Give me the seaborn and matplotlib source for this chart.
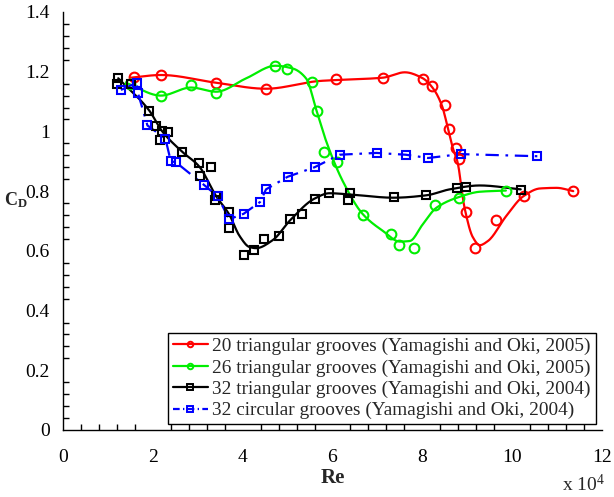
import numpy as np
import matplotlib
matplotlib.use("Agg")
import matplotlib.pyplot as plt
from matplotlib.lines import Line2D
from matplotlib.ticker import MultipleLocator, FuncFormatter
import seaborn as sns
import pandas as pd

# ---- measured drag coefficients (Re in units of 1e4) ----
# 20 triangular grooves (Yamagishi and Oki, 2005)
re_tri20 = [1.58, 2.18, 3.41, 4.52, 6.07, 7.12, 8.01, 8.22, 8.51, 8.59,
            8.74, 8.81, 8.97, 9.17, 9.64, 10.27, 11.36]
cd_tri20 = [1.183, 1.189, 1.161, 1.141, 1.176, 1.180, 1.176, 1.152, 1.089, 1.009,
            0.944, 0.906, 0.730, 0.611, 0.702, 0.783, 0.800]

# 26 triangular grooves (Yamagishi and Oki, 2005)
re_tri26 = [1.49, 2.18, 2.85, 3.41, 4.73, 4.98, 5.54, 5.65, 5.82, 6.10,
            6.68, 7.31, 7.47, 7.81, 8.28, 8.81, 9.86]
cd_tri26 = [1.160, 1.119, 1.156, 1.128, 1.220, 1.209, 1.167, 1.067, 0.931, 0.897,
            0.719, 0.656, 0.619, 0.609, 0.753, 0.776, 0.800]

# 32 triangular grooves (Yamagishi and Oki, 2004)
re_tri32 = [1.23, 1.21, 1.51, 1.92, 2.07, 2.21, 2.33, 2.16, 2.66, 3.02,
            3.30, 3.06, 3.41, 3.39, 3.70, 3.70, 4.04, 4.26, 4.48, 4.80,
            5.06, 5.32, 5.60, 5.93, 6.34, 6.40, 7.36, 8.09, 8.78, 8.97, 10.19]
cd_tri32 = [1.180, 1.158, 1.158, 1.070, 1.017, 1.000, 0.997, 0.972, 0.931, 0.894,
            0.880, 0.850, 0.783, 0.769, 0.731, 0.678, 0.587, 0.602, 0.639, 0.650,
            0.706, 0.722, 0.773, 0.794, 0.772, 0.794, 0.780, 0.786, 0.809, 0.814, 0.803]

# 32 circular grooves (Yamagishi and Oki, 2004)
re_cir32 = [1.29, 1.64, 1.67, 1.88, 2.28, 2.40, 2.51, 3.13, 3.44, 3.70,
            4.02, 4.39, 4.52, 5.00, 5.60, 6.16, 6.98, 7.63, 8.13, 8.85, 10.56]
cd_cir32 = [1.139, 1.163, 1.128, 1.020, 0.976, 0.900, 0.897, 0.822, 0.783, 0.706,
            0.724, 0.764, 0.806, 0.848, 0.880, 0.922, 0.928, 0.922, 0.911, 0.924, 0.917]

# ---- trend curves ----
fit_re_tri20 = [1.51, 2.18, 3.41, 4.52, 5.71, 6.07, 7.12, 7.61, 8.01, 8.24, 8.43,
                8.57, 8.68, 8.78, 8.94, 9.13, 9.28, 9.46, 9.87, 10.25, 10.62, 10.99, 11.36]
fit_cd_tri20 = [1.180, 1.189, 1.163, 1.143, 1.169, 1.172, 1.180, 1.198, 1.178, 1.144, 1.089,
                1.011, 0.944, 0.900, 0.744, 0.644, 0.619, 0.633, 0.717, 0.783, 0.809, 0.811, 0.800]

fit_re_tri26 = [1.43, 2.18, 2.85, 3.41, 4.08, 4.73, 5.11, 5.41, 5.65, 5.86, 6.23,
                6.68, 7.12, 7.50, 7.72, 8.01, 8.31, 8.81, 9.28, 9.86]
fit_cd_tri26 = [1.161, 1.120, 1.147, 1.133, 1.178, 1.220, 1.211, 1.178, 1.067, 0.967, 0.833,
                0.722, 0.667, 0.631, 0.633, 0.689, 0.744, 0.780, 0.798, 0.802]

fit_re_tri32 = [1.23, 1.92, 2.21, 2.66, 3.03, 3.41, 3.70, 3.93, 4.15, 4.30, 4.67,
                5.06, 5.60, 5.93, 6.38, 7.36, 8.09, 8.61, 9.28, 10.19]
fit_cd_tri32 = [1.178, 1.070, 1.000, 0.931, 0.883, 0.783, 0.722, 0.650, 0.613, 0.609, 0.636,
                0.703, 0.775, 0.793, 0.789, 0.778, 0.786, 0.806, 0.819, 0.806]

labels = ["20 triangular grooves (Yamagishi and Oki, 2005)",
          "26 triangular grooves (Yamagishi and Oki, 2005)",
          "32 triangular grooves (Yamagishi and Oki, 2004)",
          "32 circular grooves (Yamagishi and Oki, 2004)"]
colors = ["#ff0000", "#00ee00", "#000000", "#0000ff"]


def pchip(x, y, xs):
    """Shape-preserving cubic Hermite curve through the traced nodes."""
    x = np.asarray(x, float)
    y = np.asarray(y, float)
    h = np.diff(x)
    d = np.diff(y) / h
    m = np.zeros_like(y)
    for k in range(1, len(x) - 1):
        if d[k - 1] * d[k] > 0:
            w1 = 2 * h[k] + h[k - 1]
            w2 = h[k] + 2 * h[k - 1]
            m[k] = (w1 + w2) / (w1 / d[k - 1] + w2 / d[k])
    m[0] = d[0]
    m[-1] = d[-1]
    idx = np.clip(np.searchsorted(x, xs) - 1, 0, len(x) - 2)
    t = (xs - x[idx]) / h[idx]
    h00 = 2 * t**3 - 3 * t**2 + 1
    h10 = t**3 - 2 * t**2 + t
    h01 = -2 * t**3 + 3 * t**2
    h11 = t**3 - t**2
    return h00 * y[idx] + h10 * h[idx] * m[idx] + h01 * y[idx + 1] + h11 * h[idx] * m[idx + 1]


sns.set_theme(style="white")
plt.rcParams["font.family"] = ["Liberation Serif", "DejaVu Serif"]
plt.rcParams["mathtext.fontset"] = "custom"
plt.rcParams["mathtext.rm"] = "Liberation Serif"
plt.rcParams["mathtext.bf"] = "Liberation Serif:bold"
plt.rcParams["mathtext.it"] = "Liberation Serif:italic"

fig = plt.figure(figsize=(6.14, 4.97), dpi=100)
ax = fig.add_axes([63 / 614, 67 / 497, 539 / 614, 418 / 497])

# smooth trend lines
for fx, fy, c in [(fit_re_tri20, fit_cd_tri20, colors[0]),
                  (fit_re_tri26, fit_cd_tri26, colors[1]),
                  (fit_re_tri32, fit_cd_tri32, colors[2])]:
    xs = np.linspace(fx[0], fx[-1], 400)
    curve = pd.DataFrame({"Re": xs, "CD": pchip(fx, fy, xs)})
    sns.lineplot(data=curve, x="Re", y="CD", color=c, lw=1.6,
                 sort=False, estimator=None, ax=ax, zorder=2)

# dash-dot line joining the circular-groove points
cir = pd.DataFrame({"Re": re_cir32, "CD": cd_cir32}).sort_values("Re")
sns.lineplot(data=cir, x="Re", y="CD", color=colors[3], lw=1.6,
             linestyle=(0, (6, 3, 1.2, 3)), sort=False, estimator=None, ax=ax, zorder=2)

# open markers for the measurements
for rx, ry, c, mk, ms in [(re_tri20, cd_tri20, colors[0], "o", 7),
                          (re_tri26, cd_tri26, colors[1], "o", 7),
                          (re_tri32, cd_tri32, colors[2], "s", 6),
                          (re_cir32, cd_cir32, colors[3], "s", 5.5)]:
    pts = pd.DataFrame({"Re": rx, "CD": ry})
    sns.lineplot(data=pts, x="Re", y="CD", linestyle="none", marker=mk,
                 markersize=ms, markerfacecolor="none", markeredgecolor=c,
                 markeredgewidth=1.5, sort=False, estimator=None, ax=ax, zorder=3)

ax.set_xlim(0, 12)
ax.set_ylim(0, 1.4)
ax.xaxis.set_major_locator(MultipleLocator(2))
ax.xaxis.set_minor_locator(MultipleLocator(0.4))
ax.yaxis.set_major_locator(MultipleLocator(0.2))
ax.yaxis.set_minor_locator(MultipleLocator(0.04))
ax.xaxis.set_major_formatter(FuncFormatter(lambda v, p: f"{v:g}"))
ax.yaxis.set_major_formatter(FuncFormatter(lambda v, p: f"{v:.1f}".rstrip("0").rstrip(".") if v else "0"))
ax.tick_params(which="major", direction="inout", length=9, width=1, colors="black",
               labelsize=14, pad=5)
ax.tick_params(which="minor", direction="in", length=4, width=1, colors="black")
ax.tick_params(axis="x", which="major", pad=9)
ax.tick_params(axis="x", which="minor", bottom=True)
ax.tick_params(axis="y", which="minor", left=True)
for side in ["top", "right"]:
    ax.spines[side].set_visible(False)
for side in ["left", "bottom"]:
    ax.spines[side].set_color("black")
    ax.spines[side].set_linewidth(1)
ax.set_xlabel("")
ax.set_ylabel("")

fig.text(333 / 614, 1 - 478 / 497, "Re", fontsize=15, fontweight="bold",
         ha="center", va="center")
fig.text(16 / 614, 1 - 200 / 497, r"$\mathbf{C_D}$", fontsize=13,
         ha="center", va="center")
fig.text(583 / 614, 1 - 484 / 497, r"x 10$^4$", fontsize=14,
         ha="center", va="center")

handles = []
for c, mk, ls in [(colors[0], "o", "-"), (colors[1], "o", "-"),
                  (colors[2], "s", "-"), (colors[3], "s", (0, (3, 1.5, 0.6, 1.5)))]:
    handles.append(Line2D([], [], color=c, lw=1.6, linestyle=ls, marker=mk, markersize=4,
                          markerfacecolor="none", markeredgecolor=c, markeredgewidth=1.4))
leg = ax.legend(handles, labels, loc="lower right", bbox_to_anchor=(0.999, 0.0),
                bbox_transform=ax.transAxes, borderaxespad=0.3, fontsize=13.9,
                frameon=True, fancybox=False, edgecolor="black", framealpha=1,
                handlelength=1.8, handletextpad=0.25, labelspacing=0.2, borderpad=0.25)
leg.get_frame().set_linewidth(1)

fig.savefig("out.png", dpi=100)
